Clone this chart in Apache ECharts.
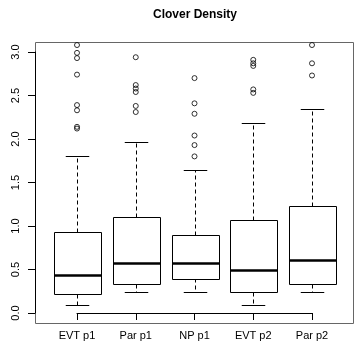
<!DOCTYPE html>
<html>
<head>
<meta charset="utf-8">
<script src="https://cdn.jsdelivr.net/npm/echarts@6/dist/echarts.min.js"></script>
<style>html,body{margin:0;padding:0;background:#fff;}#chart{width:355px;height:350px;}</style>
</head>
<body>
<div id="chart"></div>
<script>
var categories = ['EVT p1', 'Par p1', 'NP p1', 'EVT p2', 'Par p2'];
// [lower whisker, Q1, median, Q3, upper whisker]
var boxStats = [
  [0.09, 0.22, 0.44, 0.93, 1.81],
  [0.24, 0.33, 0.57, 1.10, 1.97],
  [0.24, 0.40, 0.58, 0.90, 1.64],
  [0.09, 0.24, 0.49, 1.07, 2.18],
  [0.24, 0.33, 0.61, 1.23, 2.35]
];
var outliers = [
  [2.12, 2.14, 2.33, 2.39, 2.74, 2.93, 2.99, 3.08],
  [2.31, 2.38, 2.54, 2.58, 2.62, 2.94],
  [1.80, 1.93, 2.04, 2.29, 2.41, 2.70],
  [2.53, 2.57, 2.84, 2.87, 2.91],
  [2.73, 2.87, 3.08]
];
var yTicks = [0, 0.5, 1, 1.5, 2, 2.5, 3];

var boxData = boxStats.map(function (s, i) { return [i + 1].concat(s); });
var outlierData = [];
outliers.forEach(function (arr, i) { arr.forEach(function (v) { outlierData.push([i + 1, v]); }); });

var chart = echarts.init(document.getElementById('chart'), null, {renderer: 'canvas'});
var FONT = 'Liberation Sans, Arial, sans-serif';

function renderBox(params, api) {
  var x = api.value(0);
  var lo = api.value(1), q1 = api.value(2), med = api.value(3), q3 = api.value(4), hi = api.value(5);
  var w = api.size([0.8, 0])[0];
  var cw = api.size([0.4, 0])[0];
  var pLo = api.coord([x, lo]), pQ1 = api.coord([x, q1]), pMed = api.coord([x, med]),
      pQ3 = api.coord([x, q3]), pHi = api.coord([x, hi]);
  var cx = Math.round(pMed[0]) + 0.5;
  function r(v) { return Math.round(v) + 0.5; }
  var line = {stroke: '#000', lineWidth: 1};
  var dashed = {stroke: '#000', lineWidth: 1, lineDash: [4, 3]};
  return {
    type: 'group',
    children: [
      {type: 'line', shape: {x1: cx, y1: r(pQ3[1]), x2: cx, y2: r(pHi[1])}, style: dashed},
      {type: 'line', shape: {x1: cx, y1: r(pQ1[1]), x2: cx, y2: r(pLo[1])}, style: dashed},
      {type: 'line', shape: {x1: cx - cw / 2, y1: r(pHi[1]), x2: cx + cw / 2, y2: r(pHi[1])}, style: line},
      {type: 'line', shape: {x1: cx - cw / 2, y1: r(pLo[1]), x2: cx + cw / 2, y2: r(pLo[1])}, style: line},
      {type: 'rect', shape: {x: r(cx - w / 2), y: r(pQ3[1]), width: Math.round(w), height: Math.round(pQ1[1] - pQ3[1])},
        style: {fill: '#fff', stroke: '#000', lineWidth: 1}},
      {type: 'line', shape: {x1: r(cx - w / 2), y1: Math.round(pMed[1]) + 0.5, x2: r(cx - w / 2) + Math.round(w), y2: Math.round(pMed[1]) + 0.5},
        style: {stroke: '#000', lineWidth: 2.5}}
    ]
  };
}

chart.setOption({
  animation: false,
  backgroundColor: '#fff',
  title: {
    text: 'Clover Density', left: 190, top: 4, textAlign: 'center',
    textStyle: {fontFamily: FONT, fontSize: 12, fontWeight: 'bold', color: '#000'}
  },
  graphic: [{
    type: 'rect', z: 0, silent: true,
    shape: {x: 35.5, y: 42.5, width: 318, height: 281},
    style: {fill: 'none', stroke: '#666', lineWidth: 1}
  }],
  grid: {left: 77, right: 43, top: 52, bottom: 37},
  xAxis: {
    type: 'value', min: 1, max: 5, interval: 1, offset: 10,
    axisLine: {show: true, lineStyle: {color: '#000', width: 1}},
    axisTick: {show: true, length: 7, lineStyle: {color: '#000'}},
    splitLine: {show: false},
    axisLabel: {
      margin: 7, color: '#000', fontFamily: FONT, fontSize: 11,
      formatter: function (v) { return categories[Math.round(v) - 1] || ''; }
    }
  },
  yAxis: {
    type: 'value', min: yTicks[0], max: yTicks[yTicks.length - 1], interval: 0.5, offset: 42,
    axisLine: {show: true, lineStyle: {color: '#000', width: 1}},
    axisTick: {show: true, length: 7, lineStyle: {color: '#000'}},
    splitLine: {show: false},
    axisLabel: {
      rotate: 90, margin: 14, color: '#000', fontFamily: FONT, fontSize: 11,
      formatter: function (v) { return v.toFixed(1); }
    }
  },
  series: [
    {
      type: 'custom', renderItem: renderBox, data: boxData, clip: false,
      encode: {x: 0, y: [1, 2, 3, 4, 5]}, z: 2
    },
    {
      type: 'scatter', data: outlierData, clip: false, symbol: 'circle', symbolSize: 5,
      itemStyle: {color: 'rgba(0,0,0,0)', borderColor: '#000', borderWidth: 1}, z: 3
    }
  ]
});
</script>
</body>
</html>
